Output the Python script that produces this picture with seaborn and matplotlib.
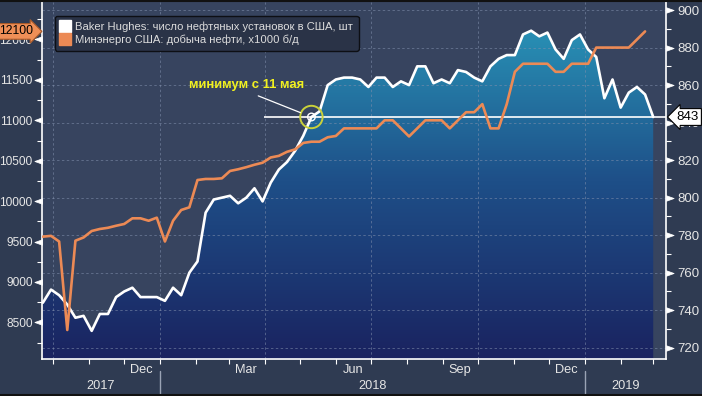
import numpy as np
import pandas as pd
import matplotlib
matplotlib.use("Agg")
import matplotlib.pyplot as plt
import matplotlib.dates as mdates
from matplotlib.colors import LinearSegmentedColormap
from matplotlib.lines import Line2D
from matplotlib.path import Path
from matplotlib.ticker import FixedLocator, FixedFormatter, NullFormatter
from matplotlib.transforms import blended_transform_factory
import seaborn as sns

# ---------------- data (weekly) ----------------
first_week = "2017-09-22"
rig_count = [744, 751, 748, 743, 736, 737, 729, 738, 738, 747, 750, 752, 747, 747,
             747, 745, 752, 748, 760, 766, 792, 799, 800, 801, 797, 800, 805, 798,
             808, 815, 819, 825, 833, 843, 846, 860, 863, 864, 864, 863, 859, 864,
             864, 859, 862, 860, 870, 870, 861, 863, 861, 868, 867, 864, 862, 870,
             874, 876, 876, 887, 889, 886, 888, 879, 874, 884, 887, 879, 875, 853,
             863, 848, 856, 859, 855, 843]
oil_output = [9560, 9570, 9500, 8405, 9510, 9550, 9630, 9655, 9670, 9695, 9717,
              9787, 9787, 9757, 9795, 9500, 9757, 9890, 9923, 10261, 10274, 10274,
              10282, 10373, 10394, 10420, 10450, 10475, 10540, 10560, 10610, 10640,
              10720, 10735, 10735, 10790, 10806, 10900, 10900, 10900, 10900, 10900,
              11000, 11000, 10900, 10800, 10900, 11000, 11000, 11000, 10900, 11000,
              11100, 11100, 11200, 10900, 10900, 11200, 11600, 11700, 11700, 11700,
              11700, 11600, 11600, 11700, 11700, 11700, 11900, 11900, 11900, 11900,
              11900, 12000, 12100]
prod_major_ticks = [8500, 9000, 9500, 10000, 10500, 11000, 11500, 12000]
rig_major_ticks = [720, 740, 760, 780, 800, 820, 840, 860, 880, 900]
month_labels = ["Dec", "Mar", "Jun", "Sep", "Dec"]
month_label_dates = ["2017-12-16", "2018-03-16", "2018-06-16", "2018-09-16", "2018-12-16"]
year_labels = ["2017", "2018", "2019"]
year_starts = ["2018-01-01", "2019-01-01"]
quarter_grid = ["2017-10-01", "2018-01-01", "2018-04-01", "2018-07-01", "2018-10-01", "2019-01-01"]
legend_labels = ["Baker Hughes: число нефтяных установок в США, шт",
                 "Минэнерго США: добыча нефти, x1000 б/д"]
annot_text = "минимум с 11 мая"
annot_date = "2018-05-11"
level_line_start = "2018-03-31"
last_rig_value = 843
last_prod_value = 12100

rig_dates = pd.date_range(first_week, periods=len(rig_count), freq="7D")
prod_dates = pd.date_range(first_week, periods=len(oil_output), freq="7D")

# ---------------- style ----------------
sns.set_style("dark")
plt.rcParams["font.family"] = ["Liberation Sans", "DejaVu Sans"]

FIG_BG = "#2f3b52"
PLOT_BG = "#37445f"
TXT = "#e6e6e6"
ORANGE = "#ec8a55"
TICK_FS = 8.6

W, H = 702.0, 396.0
L, R, B, T = 41.7, 666.0, 359.0, 2.0
fig = plt.figure(figsize=(W / 100, H / 100), dpi=100, facecolor=FIG_BG)
ax = fig.add_axes([L / W, 1 - B / H, (R - L) / W, (B - T) / H])
ax2 = ax.twinx()
ax.set_zorder(ax2.get_zorder() + 1)
ax.patch.set_visible(False)
ax2.patch.set_visible(True)
ax2.patch.set_facecolor(PLOT_BG)
ax.grid(False)
ax2.grid(False)

PROD_LIM = (8046, 12464)
RIG_LIM = (714.0, 904.3)
xlo = mdates.date2num(pd.Timestamp("2017-09-21"))
xhi = mdates.date2num(pd.Timestamp("2019-03-12"))

# gradient area under rig count
poly = ax2.fill_between(rig_dates, rig_count, RIG_LIM[0], facecolor="none",
                        edgecolor="none", lw=0)
grad = np.linspace(0, 1, 256).reshape(-1, 1)
cmap = LinearSegmentedColormap.from_list("bbg", ["#1a2360", "#1e4f88", "#2a9cbd"])
im = ax2.imshow(grad, cmap=cmap, origin="lower", aspect="auto",
                extent=[xlo, xhi, RIG_LIM[0], RIG_LIM[1]], zorder=1,
                interpolation="bilinear")
im.set_clip_path(poly.get_paths()[0], transform=ax2.transData)

# grid
for v in rig_major_ticks:
    ax2.axhline(v, color="#8290ad", lw=0.7, ls=(0, (2.5, 2.5)), alpha=0.55, zorder=2)
for d in quarter_grid:
    ax2.axvline(mdates.date2num(pd.Timestamp(d)), color="#8290ad", lw=0.7,
                ls=(0, (2.5, 2.5)), alpha=0.55, zorder=2)

# lines
sns.lineplot(x=rig_dates, y=rig_count, ax=ax2, color="white", linewidth=1.9, zorder=4)
sns.lineplot(x=prod_dates, y=oil_output, ax=ax, color=ORANGE, linewidth=1.9, zorder=4)

ax2.hlines(last_rig_value, mdates.date2num(pd.Timestamp(level_line_start)), xhi,
           color="white", lw=1.2, zorder=6)

ax.set_xlim(xlo, xhi)
ax.set_ylim(*PROD_LIM)
ax2.set_ylim(*RIG_LIM)
for a in (ax, ax2):
    a.set_xlabel("")
    a.set_ylabel("")

# spines
for a in (ax, ax2):
    for s in a.spines.values():
        s.set_visible(False)
for a, side in ((ax, "left"), (ax, "bottom"), (ax2, "right")):
    a.spines[side].set_visible(True)
    a.spines[side].set_color("white")
    a.spines[side].set_linewidth(1.2)

# y ticks
ax.yaxis.set_major_locator(FixedLocator(prod_major_ticks))
ax.yaxis.set_minor_locator(FixedLocator([t - 250 for t in prod_major_ticks] + [prod_major_ticks[-1] + 250]))
ax.tick_params(axis="y", which="major", length=6, width=0.5, colors="white",
               labelcolor=TXT, labelsize=TICK_FS, pad=0.6, left=True, right=False)
ax.tick_params(axis="y", which="minor", length=3.5, width=0.8, color="white", left=True)

ax2.yaxis.set_major_locator(FixedLocator(rig_major_ticks))
ax2.yaxis.set_minor_locator(FixedLocator([t + 10 for t in rig_major_ticks[:-1]] + [rig_major_ticks[0] - 10]))
ax2.tick_params(axis="y", which="major", length=6.5, width=0.5, colors="white",
                labelcolor=TXT, labelsize=TICK_FS + 0.9, pad=1.5)
ax2.tick_params(axis="y", which="minor", length=3.5, width=0.8, color="white")

# x ticks
month_starts = pd.date_range("2017-10-01", "2019-03-01", freq="MS")
ax.xaxis.set_major_locator(FixedLocator(mdates.date2num(month_starts)))
ax.xaxis.set_major_formatter(NullFormatter())
ax.xaxis.set_minor_locator(FixedLocator(mdates.date2num(pd.to_datetime(month_label_dates))))
ax.xaxis.set_minor_formatter(FixedFormatter(month_labels))
ax.tick_params(axis="x", which="major", length=3.5, width=0.8, color="white",
               direction="out", bottom=True)
ax.tick_params(axis="x", which="minor", length=0, pad=3.5, labelsize=TICK_FS + 0.6,
               labelcolor=TXT, bottom=True)

# year labels and separators
tr_xy = blended_transform_factory(ax.transData, ax.transAxes)
bounds = [xlo] + [mdates.date2num(pd.Timestamp(y)) for y in year_starts] + [xhi]
for i, lab in enumerate(year_labels):
    ax.text((bounds[i] + bounds[i + 1]) / 2, -0.075, lab, transform=tr_xy,
            ha="center", va="center", fontsize=TICK_FS + 0.6, color=TXT)
for ys in year_starts:
    xv = mdates.date2num(pd.Timestamp(ys))
    ax.add_line(Line2D([xv, xv], [-0.035, -0.10], transform=tr_xy, color="#9aa3b5",
                       lw=1, clip_on=False))

# legend
handles = [Line2D([], [], marker="s", ls="none", markersize=8, markerfacecolor="white",
                  markeredgecolor="white"),
           Line2D([], [], marker="s", ls="none", markersize=8, markerfacecolor=ORANGE,
                  markeredgecolor=ORANGE)]
leg = ax.legend(handles, legend_labels, loc="upper left", bbox_to_anchor=(0.0213, 0.962),
                frameon=True, fancybox=True, facecolor="#2a3347", edgecolor="#0d0f14",
                framealpha=1, prop={"family": ["Liberation Sans", "DejaVu Sans"], "size": 8.1},
                labelcolor="#dcdcdc", handlelength=0.7, handletextpad=0.6, borderpad=0.5,
                labelspacing=0.25, borderaxespad=0)
leg.set_zorder(30)

# value tags
tr_left = blended_transform_factory(ax.transAxes, ax.transData)
ax.text(-0.013, last_prod_value, f"{last_prod_value}", transform=tr_left, ha="right",
        va="center", fontsize=TICK_FS + 0.2, color="black", zorder=20, clip_on=False,
        bbox=dict(boxstyle="rarrow,pad=0.15", fc="#ef8f57", ec="#a85a2a", lw=0.8))
tr_right = blended_transform_factory(ax2.transAxes, ax2.transData)
ax2.text(1.017, last_rig_value, f"{last_rig_value}", transform=tr_right, ha="left",
         va="center", fontsize=TICK_FS + 1.0, color="black", zorder=20, clip_on=False,
         bbox=dict(boxstyle="larrow,pad=0.18", fc="white", ec="black", lw=0.8))

# annotation
ann_x = mdates.date2num(pd.Timestamp(annot_date))
ax2.scatter([ann_x], [last_rig_value], s=260, facecolors="none", edgecolors="#c9d13a",
            linewidths=1.4, zorder=8)
ax2.scatter([ann_x], [last_rig_value], s=30, facecolors="none", edgecolors="white",
            linewidths=1.0, zorder=8)
ax2.annotate(annot_text, xy=(ann_x, last_rig_value), xytext=(-47, 23),
             textcoords="offset points", ha="center", va="center", fontsize=9.4,
             fontweight="bold", color="#f2f21f", family=["Liberation Sans", "DejaVu Sans"],
             arrowprops=dict(arrowstyle="-", color="white", lw=0.9, relpos=(0.5, 0),
                             shrinkA=3, shrinkB=8.5), zorder=9)

# frame lines
fig.add_artist(Line2D([0, 1], [1 - 0.75 / H] * 2, transform=fig.transFigure, color="#111111", lw=1.5))
fig.add_artist(Line2D([0, 1], [1 - 394.5 / H] * 2, transform=fig.transFigure, color="#111111", lw=1.5))

# triangular tick markers (Bloomberg style)
fig.canvas.draw()
left_tri = Path([(0, 0.36), (-1, 0), (0, -0.36), (0, 0.36)],
                [Path.MOVETO, Path.LINETO, Path.LINETO, Path.CLOSEPOLY])
right_tri = Path([(0, 0.36), (1, 0), (0, -0.36), (0, 0.36)],
                 [Path.MOVETO, Path.LINETO, Path.LINETO, Path.CLOSEPOLY])
for t in ax.yaxis.get_major_ticks():
    t.tick1line.set_marker(left_tri)
    t.tick1line.set_markersize(11)
    t.tick1line.set_markerfacecolor("white")
for t in ax2.yaxis.get_major_ticks():
    t.tick2line.set_marker(right_tri)
    t.tick2line.set_markersize(11)
    t.tick2line.set_markerfacecolor("white")

fig.savefig("out.png", dpi=100, facecolor=FIG_BG)
